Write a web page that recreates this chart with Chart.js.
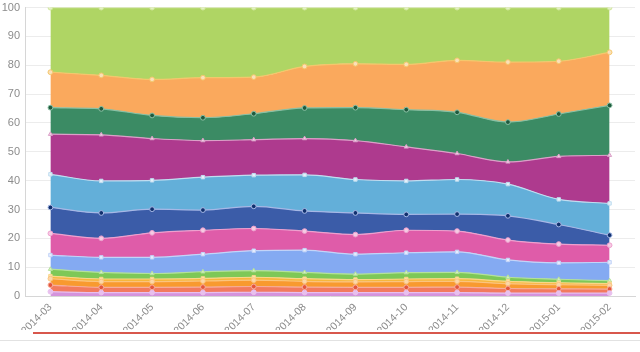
<!DOCTYPE html>
<html>
<head>
<meta charset="utf-8">
<script src="https://cdn.jsdelivr.net/npm/chart.js@4/dist/chart.umd.min.js"></script>
<style>
  html, body { margin: 0; padding: 0; background: #fff; overflow: hidden; }
  #wrap { position: relative; width: 640px; height: 352px; overflow: hidden; }
  #wrap canvas { position: absolute; left: 0; top: -4px; }
  .rule-red { position: absolute; left: 33px; right: 0; top: 332px; height: 2px; background: #d8574c; }
  .rule-grey { position: absolute; left: 0; right: 0; top: 340px; height: 1px; background: #e2e2e2; }
</style>
</head>
<body>
<div id="wrap">
  <canvas id="areaChart" width="640" height="334"></canvas>
  <div class="rule-red"></div>
  <div class="rule-grey"></div>
</div>
<script>
// months on the x axis
const months = ['2014-03', '2014-04', '2014-05', '2014-06', '2014-07', '2014-08',
                '2014-09', '2014-10', '2014-11', '2014-12', '2015-01', '2015-02'];
const yTicks = [0, 10, 20, 30, 40, 50, 60, 70, 80, 90, 100];

// share of each layer (%), bottom layer first
const lavender   = [1.5, 1.2, 1.2, 1.2, 1.3, 1.2, 1.2, 1.2, 1.2, 1.0, 1.0, 1.0];
const salmon     = [2.3, 1.8, 1.8, 1.9, 2.0, 1.9, 1.8, 1.8, 1.9, 1.6, 1.5, 1.4];
const orange     = [2.2, 2.0, 2.0, 2.1, 2.2, 2.0, 1.9, 2.0, 2.0, 1.7, 1.4, 1.3];
const gold       = [0.9, 0.9, 0.9, 0.9, 1.0, 0.9, 0.8, 0.9, 0.9, 0.8, 0.7, 0.6];
const leafGreen  = [2.4, 2.3, 1.9, 2.3, 2.3, 2.2, 1.9, 2.2, 2.2, 1.4, 1.2, 1.0];
const periwinkle = [4.9, 5.2, 5.6, 6.1, 6.9, 7.7, 6.9, 6.9, 7.1, 6.0, 5.7, 6.4];
const pink       = [7.5, 6.6, 8.5, 8.3, 7.7, 6.6, 6.8, 7.8, 7.2, 6.9, 6.5, 5.9];
const navy       = [9.0, 8.8, 8.2, 7.0, 7.7, 7.0, 7.5, 5.5, 5.9, 8.4, 6.8, 3.5];
const skyBlue    = [11.5, 11.1, 10.0, 11.4, 10.8, 12.5, 11.6, 11.6, 12.0, 11.0, 8.7, 11.0];
const magenta    = [13.9, 16.0, 14.5, 12.7, 12.3, 12.6, 13.5, 11.8, 9.0, 7.7, 14.9, 16.7];
const pine       = [9.2, 9.0, 8.0, 7.9, 9.0, 10.6, 11.4, 12.9, 14.3, 13.8, 14.7, 17.3];
const apricot    = [12.3, 11.6, 12.5, 13.9, 12.7, 14.4, 15.2, 15.7, 18.0, 20.8, 18.3, 18.4];
const lime       = [22.4, 23.5, 24.9, 24.3, 24.1, 20.4, 19.5, 19.7, 18.3, 18.9, 18.6, 15.5];

// fill, line, marker fill, marker style
const layers = [
  [lavender,   '#d493dc', '#e8c0ee', '#e8c0ee', 'circle'],
  [salmon,     '#f27a5e', '#f6ad9b', '#e4553b', 'circle'],
  [orange,     '#f89a2f', '#fbc47e', '#fbd7a8', 'circle'],
  [gold,       '#f6b73c', '#f9d788', '#fbe3ad', 'rect'],
  [leafGreen,  '#7ec857', '#b4e19a', '#d4efc4', 'triangle'],
  [periwinkle, '#84aaf2', '#c3d4f8', '#e6edfc', 'rect'],
  [pink,       '#df5ca9', '#eea0ce', '#f5cbe3', 'circle'],
  [navy,       '#3b5ca8', '#a6b8e6', '#10306e', 'circle'],
  [skyBlue,    '#63afd9', '#c0ddf0', '#e4f1f9', 'rect'],
  [magenta,    '#ae3a8e', '#dba0c8', '#eed0e4', 'triangle'],
  [pine,       '#3b8b64', '#8ac0a4', '#1f5a3e', 'circle'],
  [apricot,    '#faa95d', '#f4c76c', '#fbe0b8', 'circle'],
  [lime,       '#afd564', '#d0e69c', '#e3f0c4', 'circle']
];

const datasets = layers.map((l, i) => ({
  data: l[0],
  backgroundColor: l[1],
  borderColor: l[2],
  borderWidth: 1.2,
  pointBackgroundColor: l[3],
  pointBorderColor: l[2],
  pointBorderWidth: 1,
  pointRadius: 2.4,
  pointStyle: l[4],
  fill: i === 0 ? 'origin' : '-1',
  cubicInterpolationMode: 'monotone'
}));

const ctx = document.getElementById('areaChart').getContext('2d');
new Chart(ctx, {
  type: 'line',
  data: { labels: months, datasets: datasets },
  options: {
    responsive: false,
    animation: false,
    layout: { padding: { top: 2, right: 2, left: 0, bottom: 0 } },
    plugins: { legend: { display: false }, tooltip: { enabled: false } },
    scales: {
      x: {
        offset: true,
        grid: { display: false, drawTicks: false },
        border: { display: true, color: '#d6d6d6' },
        ticks: {
          color: '#8c8c8c',
          font: { family: 'Liberation Sans', size: 10.5 },
          minRotation: 45,
          maxRotation: 45,
          padding: 5,
          autoSkip: false
        },
        afterFit: s => { s.height = 34; }
      },
      y: {
        stacked: true,
        min: 0,
        max: 100,
        afterBuildTicks: s => { s.ticks = yTicks.map(v => ({ value: v })); },
        grid: { color: '#ececec', drawTicks: false },
        border: { display: true, color: '#d6d6d6' },
        ticks: {
          color: '#8c8c8c',
          font: { family: 'Liberation Sans', size: 11 },
          padding: 5
        },
        afterFit: s => { s.width = 25; }
      }
    }
  }
});
</script>
</body>
</html>
